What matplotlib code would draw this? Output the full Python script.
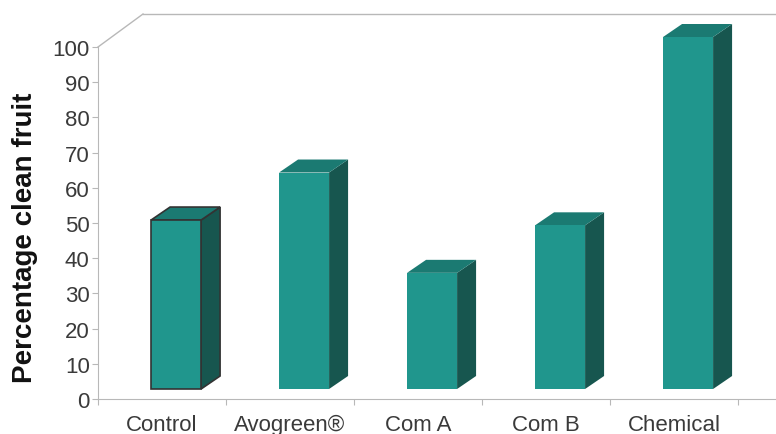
import numpy as np
import matplotlib.pyplot as plt
from matplotlib.patches import Polygon

# values
categories = ["Control", "Avogreen®", "Com A", "Com B", "Chemical"]
values = [48, 61.5, 33, 46.5, 100]
y_ticks = list(range(0, 101, 10))

plt.rcParams['font.family'] = ['Liberation Sans', 'DejaVu Sans']

front_col = "#20968d"
top_col = "#1b7a72"
side_col = "#17564f"
axis_col = "#b8b8b8"
text_col = "#3a3a3a"

fig = plt.figure(figsize=(7.76, 4.35), dpi=100)
ax = fig.add_axes([98 / 776, 35 / 435, 678 / 776, 390 / 435])
ax.set_xlim(0, 678 / 128)
ax.set_ylim(0, 390 / 3.52)

# pseudo-3d geometry (data units)
floor_dx, floor_dy = 45 / 128, 33 / 3.52   # wall depth
bar_w = 50 / 128
bar_dx, bar_dy = 19 / 128, 13 / 3.52        # bar depth
shift_x, base_y = 0.11, 10 / 3.52           # bar front offset from the front edge

for i, (cat, v) in enumerate(zip(categories, values)):
    x0 = i + 0.5 - bar_w / 2 + shift_x
    x1 = x0 + bar_w
    y0 = base_y
    y1 = base_y + v
    edge = "#333333" if i == 0 else "none"
    lw = 1.2 if i == 0 else 0
    side = Polygon([(x1, y0), (x1 + bar_dx, y0 + bar_dy), (x1 + bar_dx, y1 + bar_dy), (x1, y1)],
                   closed=True, fc=side_col, ec=edge, lw=lw, clip_on=False, zorder=3)
    top = Polygon([(x0, y1), (x0 + bar_dx, y1 + bar_dy), (x1 + bar_dx, y1 + bar_dy), (x1, y1)],
                  closed=True, fc=top_col, ec=edge, lw=lw, clip_on=False, zorder=3)
    front = Polygon([(x0, y0), (x1, y0), (x1, y1), (x0, y1)],
                    closed=True, fc=front_col, ec=edge, lw=lw, clip_on=False, zorder=4)
    ax.add_patch(side)
    ax.add_patch(top)
    ax.add_patch(front)

# axes frame: left wall edge and back top edge
for s in ["top", "right"]:
    ax.spines[s].set_visible(False)
ax.spines["left"].set_bounds(0, 100)
ax.spines["left"].set_color(axis_col)
ax.spines["bottom"].set_color(axis_col)
ax.plot([0, floor_dx], [100, 100 + floor_dy], color=axis_col, lw=1, clip_on=False)
ax.plot([floor_dx, ax.get_xlim()[1]], [100 + floor_dy] * 2, color=axis_col, lw=1, clip_on=False)

ax.set_yticks(y_ticks)
ax.set_yticklabels([str(t) for t in y_ticks])
ax.tick_params(axis="y", direction="out", length=4, color=axis_col, labelsize=16,
               labelcolor=text_col, pad=2)

ax.set_xticks(np.arange(0, 6))
ax.set_xticklabels([])
ax.tick_params(axis="x", which="major", direction="out", length=4, color=axis_col)
ax.set_xticks(np.arange(len(categories)) + 0.5, minor=True)
ax.set_xticklabels(categories, minor=True)
ax.tick_params(axis="x", which="minor", length=0, labelsize=16, labelcolor=text_col, pad=11)

fig.text(25 / 776, 1 - 238 / 435, "Percentage clean fruit", rotation=90, ha="center",
         va="center", fontsize=20, fontweight="bold", color="#111111")

fig.savefig("out.png", dpi=100)
